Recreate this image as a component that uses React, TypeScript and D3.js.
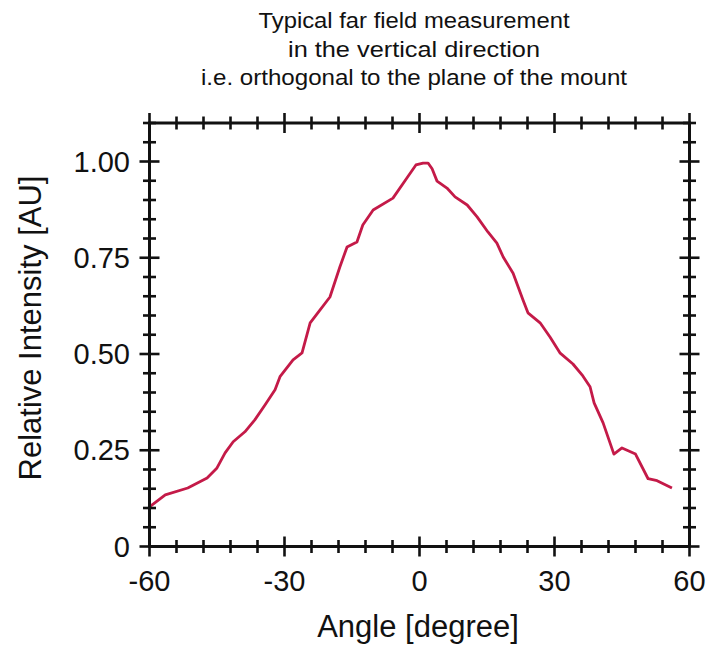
import React from "react";
import * as d3 from "d3";

const angles = [
  -60, -56.5, -51.5, -47.2, -45, -43.2, -41.4, -38.8, -36.6, -34.3, -32.1, -31, -28.1, -26.1,
  -24.3, -22.6, -19.9, -17.7, -16.1, -13.9, -12.6, -10.3, -5.9, -2.8, -0.8, 0.8, 1.9, 2.8, 3.9,
  6.1, 7.9, 10.6, 12.8, 15.2, 17.2, 18.6, 20.8, 23, 24.1, 26.8, 29, 31.2, 34.1, 36.3, 37.9, 38.8,
  40.8, 43.2, 45, 48, 50.8, 52.8, 56.1,
];
const intensity = [
  0.103, 0.134, 0.152, 0.178, 0.204, 0.243, 0.272, 0.298, 0.329, 0.368, 0.407, 0.441, 0.485, 0.503,
  0.581, 0.607, 0.648, 0.726, 0.778, 0.791, 0.835, 0.874, 0.905, 0.957, 0.991, 0.996, 0.996, 0.981,
  0.949, 0.931, 0.908, 0.887, 0.856, 0.817, 0.788, 0.752, 0.71, 0.64, 0.607, 0.581, 0.544, 0.503,
  0.474, 0.443, 0.415, 0.373, 0.321, 0.24, 0.256, 0.24, 0.176, 0.171, 0.152,
];
const xTickLabels = [-60, -30, 0, 30, 60];
const yTickLabels = [0, 0.25, 0.5, 0.75, 1.0];
const titleLines = [
  "Typical far field measurement",
  "in the vertical direction",
  "i.e. orthogonal to the plane of the mount",
];
const titleWidths = [311, 252, 426];
const xTitle = "Angle [degree]";
const yTitle = "Relative Intensity [AU]";

export default function App() {
  const W = 709, H = 645;
  const left = 149.5, right = 689.5, top = 123, bottom = 546.5;
  const x = d3.scaleLinear().domain([-60, 60]).range([left, right]);
  const y = d3.scaleLinear().domain([0, 1.1]).range([bottom, top]);
  const pts = angles.map((a, i) => [a, intensity[i]] as [number, number]);
  const line = d3.line<[number, number]>().x((d) => x(d[0])).y((d) => y(d[1]));

  const xTicks = d3.range(-60, 60.001, 6);
  const yTicks = d3.range(0, 1.1001, 0.05);
  const isMajorX = (v: number) => Math.abs(v % 30) < 1e-6;
  const isMajorY = (v: number) => Math.abs(Math.round(v * 100) % 25) < 1e-6;
  const font = "'Liberation Sans', Arial, Helvetica, sans-serif";
  const sw = 2.6;

  return (
    <svg width={W} height={H} style={{ position: "absolute", left: 0, top: 0, background: "#fff" }}>
      <rect x={0} y={0} width={W} height={H} fill="#fff" />
      {titleLines.map((t, i) => (
        <text key={t} x={414} y={28 + i * 28.5} textAnchor="middle" fontFamily={font} fontSize={22.5}
          textLength={titleWidths[i]} lengthAdjust="spacingAndGlyphs" fill="#111">{t}</text>
      ))}
      <path d={line(pts) || ""} fill="none" stroke="#c41a48" strokeWidth={2.8} strokeLinejoin="round" />
      <rect x={left} y={top} width={right - left} height={bottom - top} fill="none" stroke="#111" strokeWidth={3} />
      {xTicks.map((v) => {
        const L = isMajorX(v) ? 10 : 6.5;
        return (
          <g key={"x" + v} stroke="#111" strokeWidth={sw}>
            <line x1={x(v)} x2={x(v)} y1={bottom - L} y2={bottom + L} />
            <line x1={x(v)} x2={x(v)} y1={top - L} y2={top + L} />
          </g>
        );
      })}
      {yTicks.map((v) => {
        const L = isMajorY(v) ? 10 : 6.5;
        return (
          <g key={"y" + v} stroke="#111" strokeWidth={sw}>
            <line x1={left - L} x2={left + L} y1={y(v)} y2={y(v)} />
            <line x1={right - L} x2={right + L} y1={y(v)} y2={y(v)} />
          </g>
        );
      })}
      {xTickLabels.map((v) => (
        <text key={"xl" + v} x={x(v)} y={591} textAnchor="middle" fontFamily={font} fontSize={29} fill="#111">
          {v < 0 ? "-" + Math.abs(v) : String(v)}
        </text>
      ))}
      {yTickLabels.map((v) => (
        <text key={"yl" + v} x={130} y={y(v) + 10} textAnchor="end" fontFamily={font} fontSize={29} fill="#111">
          {v === 0 ? "0" : v.toFixed(2)}
        </text>
      ))}
      <text x={418} y={637} textAnchor="middle" fontFamily={font} fontSize={31} fill="#111">{xTitle}</text>
      <text transform={`translate(41,${328}) rotate(-90)`} textAnchor="middle" fontFamily={font} fontSize={31}
        fill="#111">{yTitle}</text>
    </svg>
  );
}
